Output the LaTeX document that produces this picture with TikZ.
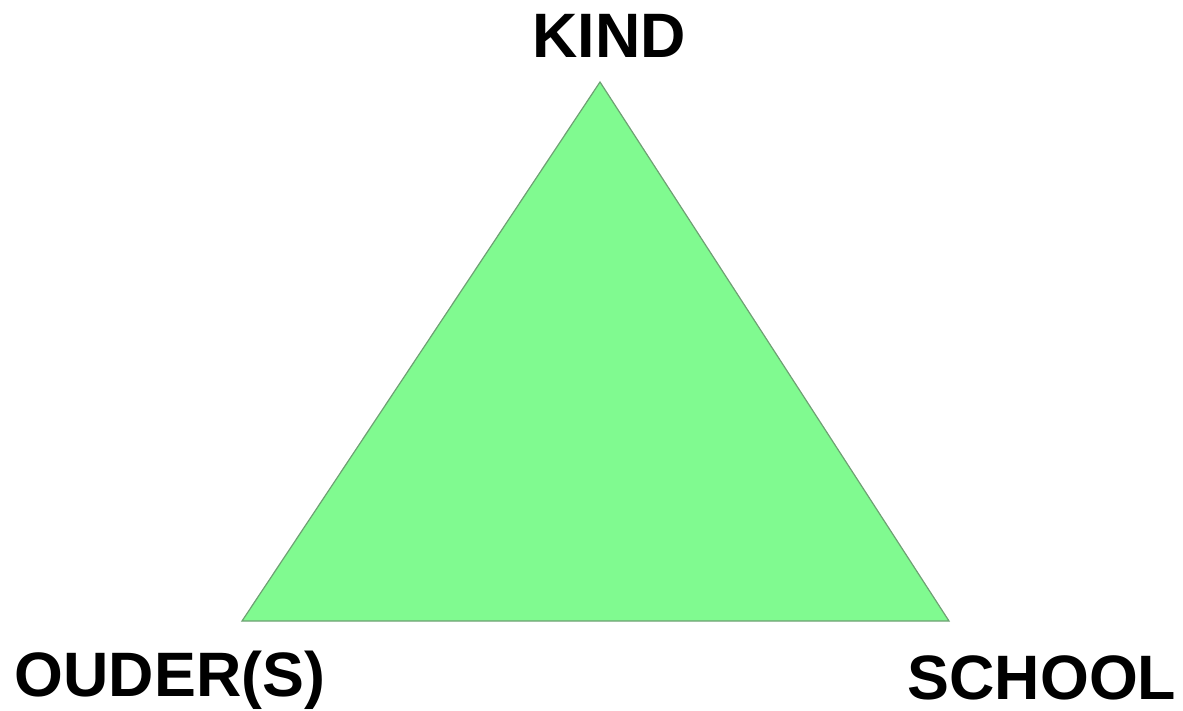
\documentclass[tikz,border=0pt]{standalone}
\usepackage{fontspec}
\setmainfont{Liberation Sans}
\definecolor{trifill}{RGB}{128,250,144}
\definecolor{triedge}{RGB}{110,160,115}
\begin{document}
\begin{tikzpicture}[x=1bp,y=-1bp,
  lbl/.style={font=\fontsize{63}{63}\selectfont\bfseries, inner sep=0pt, anchor=base}]
\useasboundingbox (0,0) rectangle (1183,711);
\coordinate (A) at (600,82);
\coordinate (B) at (242,621);
\coordinate (C) at (949,621);
\fill[trifill] (A) -- (B) -- (C) -- cycle;
\draw[triedge, line width=1.2bp, line join=miter] (A) -- (B) -- (C) -- cycle;
\node[lbl] (kind) at (609,58) {KIND};
\node[lbl] (ouder) at (170,696) {OUDER(S)};
\node[lbl, text depth=0pt] (school) at (1042,699) {SCHOOL};
\end{tikzpicture}
\end{document}
